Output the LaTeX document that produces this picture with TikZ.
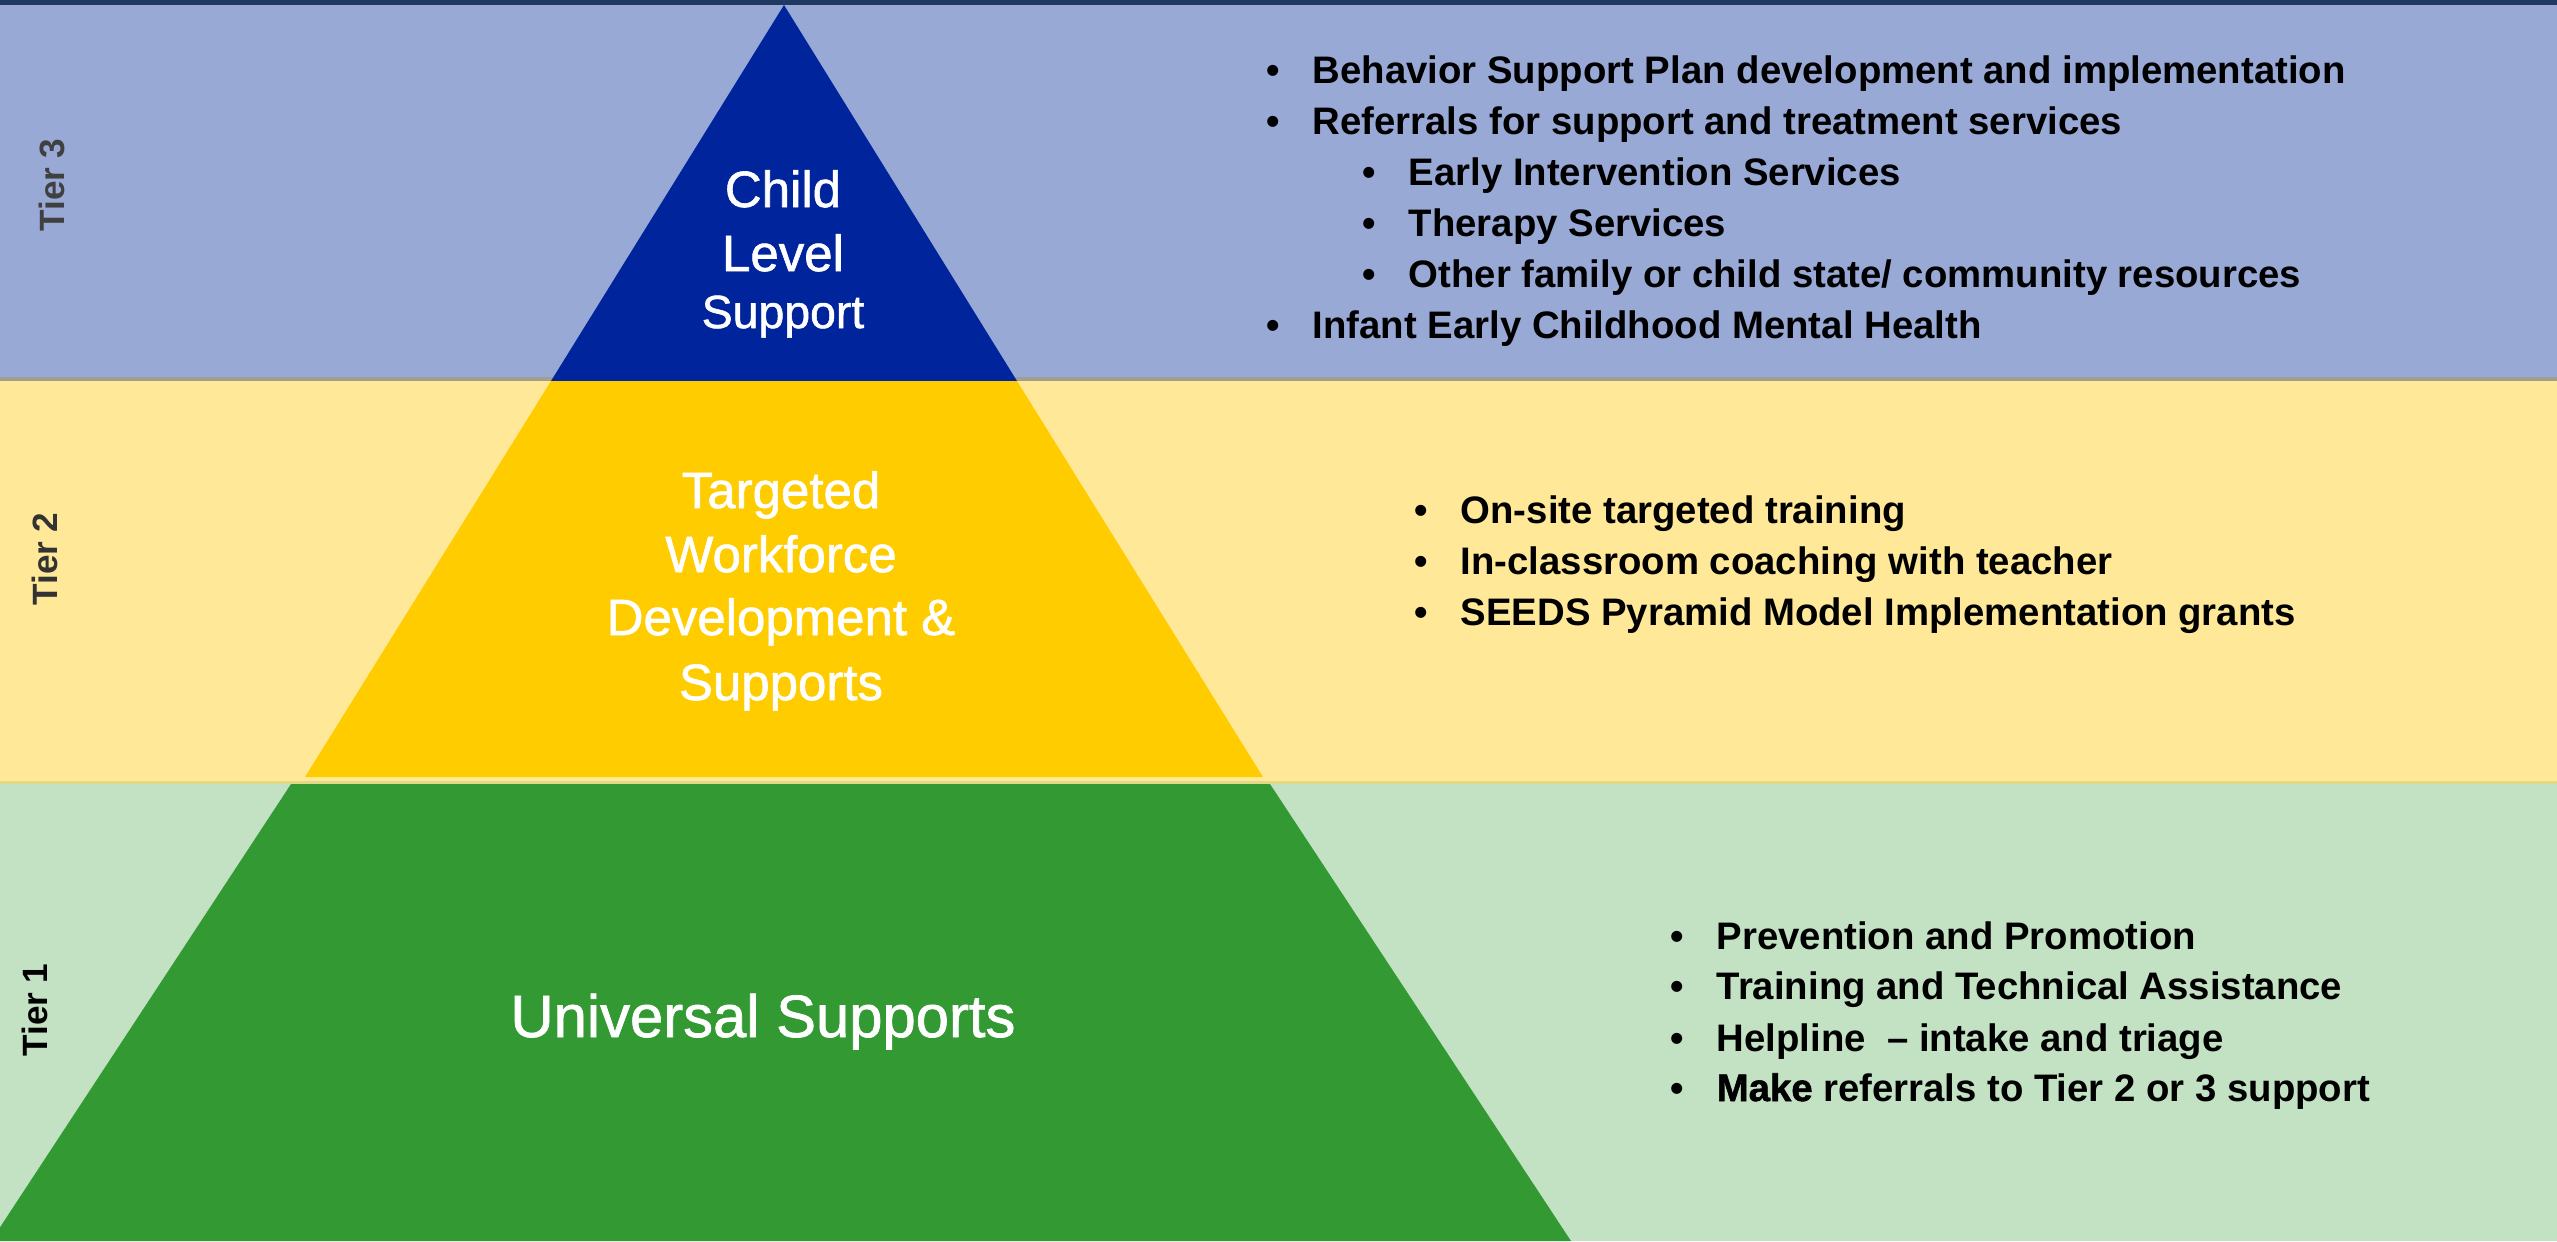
\documentclass[tikz,border=0pt]{standalone}
\usepackage{fontspec}
\setmainfont{Liberation Sans}
\newfontfamily\makefont{Liberation Sans}[BoldFeatures={FakeBold=1.5}]
\newfontfamily\pyrfont{Liberation Sans}[FakeBold=1.2]
\usepackage{tikz}

\definecolor{bandthree}{HTML}{99A9D6}
\definecolor{bandtwo}{HTML}{FFE999}
\definecolor{bandone}{HTML}{C3E1C3}
\definecolor{topbar}{HTML}{1F3864}
\definecolor{lineone}{HTML}{A09F8F}
\definecolor{linetwo}{HTML}{E2D985}
\definecolor{pyrblue}{HTML}{00249C}
\definecolor{pyryellow}{HTML}{FFCC00}
\definecolor{pyrgreen}{HTML}{339933}

\newcommand{\blt}{\makebox[0.46cm][l]{\textbullet}}

\begin{document}
\begin{tikzpicture}[x=0.01cm,y=-0.01cm]
\tikzset{listitem/.style={anchor=base west,inner sep=0,font=\bfseries\fontsize{10.9}{13}\selectfont},
    tiername/.style={rotate=90,inner sep=0,font=\bfseries\fontsize{10}{12}\selectfont},
    pyrtext/.style={anchor=base,inner sep=0,text=white,font=\pyrfont\fontsize{14.5}{17}\selectfont}}
\clip (0,0) rectangle (2557,1241);
\fill[bandthree] (0,0) rectangle (2557,379);
\fill[bandtwo] (0,379) rectangle (2557,782);
\fill[bandone] (0,782) rectangle (2557,1241);
\fill[lineone] (0,377) rectangle (2557,381);
\fill[linetwo] (0,781) rectangle (2557,784);
\fill[pyrblue] (784,5) -- (1017,381) -- (551,381) -- cycle;
\fill[pyryellow] (551,381) -- (1017,381) -- (1263,777) -- (305,777) -- cycle;
\fill[pyrgreen] (291,784) -- (1270,784) -- (1571,1241) -- (-9,1241) -- cycle;
\fill[topbar] (0,0) rectangle (2557,5);
\node[tiername,text=black!75] (tier3) at (52,185) {Tier 3};
\node[tiername,text=black!80] (tier2) at (45,559) {Tier 2};
\node[tiername,text=black] (tier1) at (35,1010) {Tier 1};
\node[pyrtext] (child) at (783,207) {Child};
\node[pyrtext] (level) at (783,271) {Level};
\node[pyrtext,font=\pyrfont\fontsize{13.2}{16}\selectfont] (support) at (783,328) {Support};
\node[pyrtext] (targeted) at (781,508) {Targeted};
\node[pyrtext] (workforce) at (781,572) {Workforce};
\node[pyrtext] (development) at (781,635) {Development \&};
\node[pyrtext] (supports) at (781,700) {Supports};
\node[pyrtext,font=\pyrfont\fontsize{17}{20}\selectfont] (universal) at (763,1037) {Universal Supports};
\node[listitem] (bsp) at (1266,83) {\blt Behavior Support Plan development and implementation};
\node[listitem] (referrals) at (1266,134) {\blt Referrals for support and treatment services};
\node[listitem] (eis) at (1362,185) {\blt Early Intervention Services};
\node[listitem] (therapy) at (1362,236) {\blt Therapy Services};
\node[listitem] (other) at (1362,287) {\blt Other family or child state/ community resources};
\node[listitem] (iecmh) at (1266,338) {\blt Infant Early Childhood Mental Health};
\node[listitem] (onsite) at (1414,523) {\blt On-site targeted training};
\node[listitem] (coaching) at (1414,574) {\blt In-classroom coaching with teacher};
\node[listitem] (seeds) at (1414,625) {\blt SEEDS Pyramid Model Implementation grants};
\node[listitem] (prevention) at (1670,949) {\blt Prevention and Promotion};
\node[listitem] (training) at (1670,999) {\blt Training and Technical Assistance};
\node[listitem] (helpline) at (1670,1051) {\blt Helpline \ -- intake and triage};
\node[listitem] (make) at (1670,1101) {\blt {\makefont\bfseries Make} referrals to Tier 2 or 3 support};
\end{tikzpicture}
\end{document}
